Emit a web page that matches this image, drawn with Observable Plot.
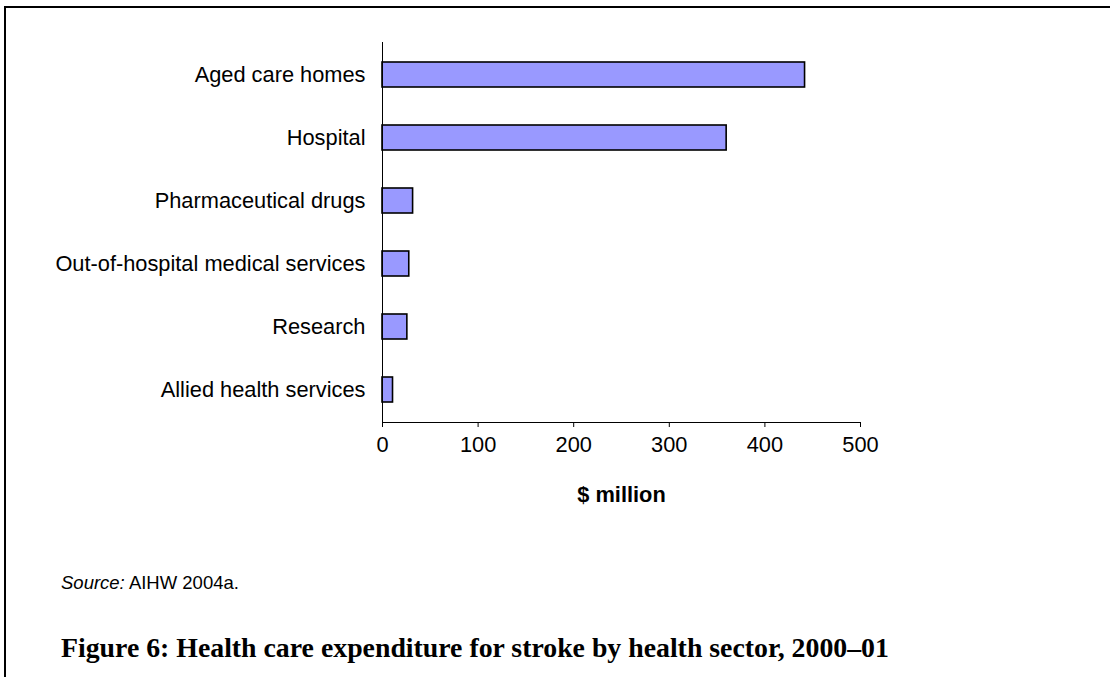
<!DOCTYPE html>
<html>
<head>
<meta charset="utf-8">
<script src="https://cdn.jsdelivr.net/npm/d3@7"></script>
<script src="https://cdn.jsdelivr.net/npm/@observablehq/plot@0.6"></script>
<style>
  html, body { margin: 0; padding: 0; background: #fff; }
  #page { position: relative; width: 1110px; height: 677px; overflow: hidden; background: #fff; }
  #frame { position: absolute; left: 4px; top: 6px; right: -10px; bottom: -10px; border-top: 2px solid #000; border-left: 2px solid #000; }
  #chart { position: absolute; left: 0; top: 0; }
  #source { position: absolute; left: 61px; top: 574px; font-family: 'Liberation Sans', Arial, sans-serif; font-size: 18.5px; line-height: 1; color: #000; white-space: nowrap; }
  #title { position: absolute; left: 61px; top: 634px; font-family: 'Liberation Serif', 'Times New Roman', serif; font-weight: bold; font-size: 27.8px; line-height: 1; color: #000; white-space: nowrap; }
</style>
</head>
<body>
<div id="page">
  <div id="frame"></div>
  <div id="chart"></div>
  <div id="source"><i>Source:</i> AIHW 2004a.</div>
  <div id="title">Figure 6: Health care expenditure for stroke by health sector, 2000–01</div>
</div>
<script>
const sectors = ["Aged care homes", "Hospital", "Pharmaceutical drugs", "Out-of-hospital medical services", "Research", "Allied health services"];
const spending = [442, 360, 32, 28, 26, 11];
const xTicks = [0, 100, 200, 300, 400, 500];
const xLabel = "$ million";

const data = sectors.map((s, i) => ({sector: s, value: spending[i]}));

const chart = Plot.plot({
  width: 1110,
  height: 520,
  marginLeft: 382,
  marginRight: 250,
  marginTop: 42,
  marginBottom: 98,
  style: {fontFamily: "'Liberation Sans', Arial, sans-serif", fontSize: "21.8px", color: "black", background: "transparent", overflow: "visible"},
  x: {domain: [0, 500], ticks: xTicks},
  y: {domain: sectors, paddingInner: 0.6, paddingOuter: 0.3, align: 0.5},
  marks: [
    Plot.barX(data, {x: "value", y: "sector", fill: "#9999ff", stroke: "black", strokeWidth: 1.6}),
    Plot.frame({anchor: "left", stroke: "black"}),
    Plot.frame({anchor: "bottom", stroke: "black"}),
    Plot.axisX({ticks: xTicks, tickSize: 5, tickPadding: 9, label: null, tickFormat: d => String(d)}),
    Plot.axisY({tickSize: 0, tickPadding: 17, label: null}),
    Plot.text([xLabel], {frameAnchor: "bottom", dy: 73, fontWeight: "bold", lineAnchor: "middle", fill: "black"})
  ]
});
document.getElementById("chart").appendChild(chart);
</script>
</body>
</html>
